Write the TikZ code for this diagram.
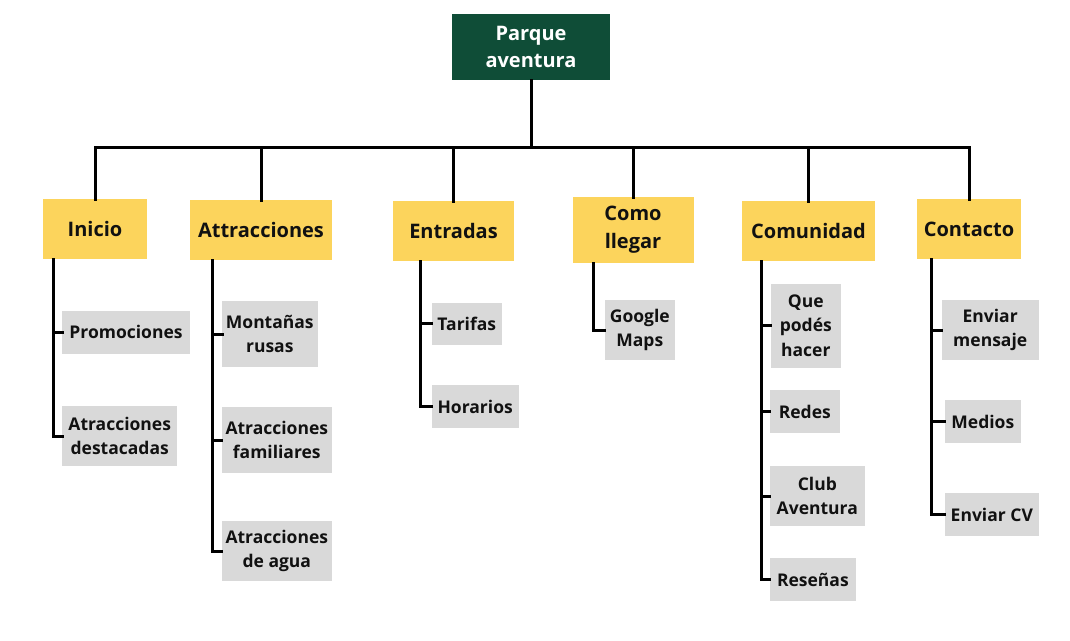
\documentclass[tikz,border=0pt]{standalone}
\usepackage{fontspec}
\setmainfont{Open Sans}
\definecolor{rootgreen}{HTML}{0F4D37}
\definecolor{lvlyellow}{HTML}{FCD45C}
\definecolor{leafgrey}{HTML}{D9D9D9}
\definecolor{ink}{HTML}{111111}
\tikzset{
  base/.style={inner sep=0pt, outer sep=0pt, align=center, anchor=center},
  rootbox/.style={base, fill=rootgreen, text=white, font=\fontsize{20}{27}\selectfont\bfseries},
  lvlbox/.style={base, fill=lvlyellow, text=ink, font=\fontsize{20}{28}\selectfont\bfseries},
  leafbox/.style={base, fill=leafgrey, text=ink, font=\fontsize{17.5}{24.5}\selectfont\bfseries},
  conn/.style={draw=black, line width=3pt, line cap=rect, line join=miter},
}
\begin{document}
\begin{tikzpicture}[x=1pt, y=-1pt]
\useasboundingbox (0,0) rectangle (1070,640);
% root
\node[rootbox, minimum width=158, minimum height=66] (root) at (531,47) {Parque\\aventura};
% level 1
\node[lvlbox, minimum width=104, minimum height=60] (inicio) at (95,229) {Inicio};
\node[lvlbox, minimum width=142, minimum height=60] (attr) at (261,230) {Attracciones};
\node[lvlbox, minimum width=121, minimum height=60] (entr) at (453.5,231) {Entradas};
\node[lvlbox, minimum width=121, minimum height=66] (como) at (633,230) {Como\\llegar};
\node[lvlbox, minimum width=133, minimum height=60] (comu) at (808.5,231) {Comunidad};
\node[lvlbox, minimum width=104, minimum height=60] (cont) at (969,229) {Contacto};
% level 2
\node[leafbox, minimum width=128, minimum height=43] (promo) at (126,332.3) {Promociones};
\node[leafbox, minimum width=115, minimum height=60] (destac) at (119.7,436) {Atracciones\\destacadas};
\node[leafbox, minimum width=95.5, minimum height=66] (montanas) at (269.8,334) {Montañas\\rusas};
\node[leafbox, minimum width=110, minimum height=66] (famil) at (276.8,440) {Atracciones\\familiares};
\node[leafbox, minimum width=110, minimum height=60] (agua) at (276.8,551) {Atracciones\\de agua};
\node[leafbox, minimum width=70, minimum height=42] (tarifas) at (466.8,323.5) {Tarifas};
\node[leafbox, minimum width=87, minimum height=43] (horarios) at (475.2,406.7) {Horarios};
\node[leafbox, minimum width=70, minimum height=60] (google) at (639.8,330) {Google\\Maps};
\node[leafbox, minimum width=70, minimum height=84] (que) at (805.8,325.5) {Que\\podés\\hacer};
\node[leafbox, minimum width=70, minimum height=43] (redes) at (804.8,411.7) {Redes};
\node[leafbox, minimum width=95, minimum height=60] (club) at (817.3,496) {Club\\Aventura};
\node[leafbox, minimum width=86, minimum height=43] (resenas) at (812.9,579.7) {Reseñas};
\node[leafbox, minimum width=97, minimum height=60] (mensaje) at (990.2,330) {Enviar\\mensaje};
\node[leafbox, minimum width=76, minimum height=43] (medios) at (982.8,421.7) {Medios};
\node[leafbox, minimum width=94, minimum height=43] (cv) at (991.8,514.7) {Enviar CV};
% top connectors
\coordinate (bar) at (0,147);
\draw[conn] (root.south) -- (root.south |- bar);
\draw[conn] (inicio.north) -- (inicio.north |- bar) -- (cont.north |- bar) -- (cont.north);
\draw[conn] (attr.north) -- (attr.north |- bar);
\draw[conn] (entr.north) -- (entr.north |- bar);
\draw[conn] (como.north) -- (como.north |- bar);
\draw[conn] (comu.north) -- (comu.north |- bar);
% spines
\coordinate (vi) at (53.7,0);
\coordinate (va) at (212,0);
\coordinate (ve) at (420.8,0);
\coordinate (vc) at (593.4,0);
\coordinate (vm) at (761.4,0);
\coordinate (vk) at (931.5,0);
\draw[conn] (inicio.south -| vi) |- (destac.west);
\draw[conn] (promo.west -| vi) -- (promo.west);
\draw[conn] (attr.south -| va) |- (agua.west);
\draw[conn] (montanas.west -| va) -- (montanas.west);
\draw[conn] (famil.west -| va) -- (famil.west);
\draw[conn] (entr.south -| ve) |- (horarios.west);
\draw[conn] (tarifas.west -| ve) -- (tarifas.west);
\draw[conn] (como.south -| vc) |- (google.west);
\draw[conn] (comu.south -| vm) |- (resenas.west);
\draw[conn] (que.west -| vm) -- (que.west);
\draw[conn] (redes.west -| vm) -- (redes.west);
\draw[conn] (club.west -| vm) -- (club.west);
\draw[conn] (cont.south -| vk) |- (cv.west);
\draw[conn] (mensaje.west -| vk) -- (mensaje.west);
\draw[conn] (medios.west -| vk) -- (medios.west);
\end{tikzpicture}
\end{document}
